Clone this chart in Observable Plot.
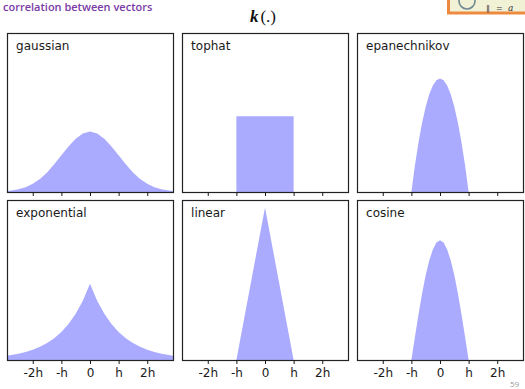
<!DOCTYPE html>
<html>
<head>
<meta charset="utf-8">
<script src="https://cdn.jsdelivr.net/npm/d3@7"></script>
<script src="https://cdn.jsdelivr.net/npm/@observablehq/plot@0.6"></script>
<style>
  html, body { margin: 0; padding: 0; background: #fff; }
  #page { position: relative; width: 525px; height: 389px; overflow: hidden; background: #fff; }
  .panel { position: absolute; }
  #decor { position: absolute; left: 0; top: 0; }
</style>
</head>
<body>
<div id="page">
  <svg id="decor" width="525" height="389">
    <text x="3" y="10.5" font-family="Open Sans" font-weight="600" font-size="11" fill="#7a3aa6">correlation between vectors</text>
    <rect x="448.5" y="-10" width="85" height="23" fill="#f1f1d6" stroke="#ee8a40" stroke-width="3"></rect>
    <circle cx="467" cy="1" r="8" fill="none" stroke="#6f8792" stroke-width="1.6"></circle>
    <text x="486" y="11" font-family="DejaVu Serif" font-size="8" fill="#333">‖</text>
    <text x="496" y="11" font-family="DejaVu Serif" font-size="8" fill="#333">=</text>
    <text x="508" y="11" font-family="DejaVu Serif" font-style="italic" font-size="9" fill="#333">a</text>
    <text x="263" y="22" text-anchor="middle" font-family="Liberation Serif" font-size="17" fill="#111"><tspan font-style="italic" font-weight="bold">k</tspan><tspan dx="2">(.)</tspan></text>
    <text x="510" y="387" font-family="Open Sans" font-size="8" fill="#9a9a9a">59</text>
  </svg>
</div>
<script>
// ---- data ----
const kernelNames = ["gaussian", "tophat", "epanechnikov", "exponential", "linear", "cosine"];

const gaussianX = [-3, -2.75, -2.5, -2.25, -2, -1.75, -1.5, -1.25, -1, -0.75, -0.5, -0.25, 0,
                   0.25, 0.5, 0.75, 1, 1.25, 1.5, 1.75, 2, 2.25, 2.5, 2.75, 3];
const gaussianY = [0.0044, 0.0091, 0.0175, 0.0317, 0.0540, 0.0863, 0.1295, 0.1826, 0.2420, 0.3011, 0.3521, 0.3867, 0.3989,
                   0.3867, 0.3521, 0.3011, 0.2420, 0.1826, 0.1295, 0.0863, 0.0540, 0.0317, 0.0175, 0.0091, 0.0044];

const tophatX = [-3, -1, -1, 1, 1, 3];
const tophatY = [0, 0, 0.5, 0.5, 0, 0];

const epanechnikovX = [-3, -1, -0.875, -0.75, -0.625, -0.5, -0.375, -0.25, -0.125, 0,
                       0.125, 0.25, 0.375, 0.5, 0.625, 0.75, 0.875, 1, 3];
const epanechnikovY = [0, 0, 0.176, 0.328, 0.457, 0.5625, 0.645, 0.703, 0.738, 0.75,
                       0.738, 0.703, 0.645, 0.5625, 0.457, 0.328, 0.176, 0, 0];

const exponentialX = [-3, -2.75, -2.5, -2.25, -2, -1.75, -1.5, -1.25, -1, -0.75, -0.5, -0.25, 0,
                      0.25, 0.5, 0.75, 1, 1.25, 1.5, 1.75, 2, 2.25, 2.5, 2.75, 3];
const exponentialY = [0.0249, 0.0320, 0.0410, 0.0527, 0.0677, 0.0869, 0.1116, 0.1433, 0.1839, 0.2362, 0.3033, 0.3894, 0.5,
                      0.3894, 0.3033, 0.2362, 0.1839, 0.1433, 0.1116, 0.0869, 0.0677, 0.0527, 0.0410, 0.0320, 0.0249];

const linearX = [-3, -1, 0, 1, 3];
const linearY = [0, 0, 1, 0, 0];

const cosineX = [-3, -1, -0.875, -0.75, -0.625, -0.5, -0.375, -0.25, -0.125, 0,
                 0.125, 0.25, 0.375, 0.5, 0.625, 0.75, 0.875, 1, 3];
const cosineY = [0, 0, 0.1532, 0.3006, 0.4363, 0.5554, 0.6530, 0.7256, 0.7703, 0.7854,
                 0.7703, 0.7256, 0.6530, 0.5554, 0.4363, 0.3006, 0.1532, 0, 0];

const tickValues = [-2, -1, 0, 1, 2];
const tickLabels = ["-2h", "-h", "0", "h", "2h"];

// ---- build ----
const series = {
  gaussian: [gaussianX, gaussianY],
  tophat: [tophatX, tophatY],
  epanechnikov: [epanechnikovX, epanechnikovY],
  exponential: [exponentialX, exponentialY],
  linear: [linearX, linearY],
  cosine: [cosineX, cosineY]
};

const colLeft = [7, 182, 357];
const rowTop = [33, 200];
const frameW = 166;
const frameH = [159, 160];
const page = document.getElementById("page");

kernelNames.forEach((name, k) => {
  const row = Math.floor(k / 3), col = k % 3;
  const [xs, ys] = series[name];
  const rows = xs.map((x, i) => ({x, y: ys[i]}));
  const bottom = row === 0 ? 5 : 26;
  const chart = Plot.plot({
    width: frameW + 2,
    height: frameH[row] + 1 + bottom,
    marginLeft: 1, marginRight: 1, marginTop: 1, marginBottom: bottom,
    style: {fontFamily: "DejaVu Sans", fontSize: "12px", color: "#1a1a1a", background: "transparent", overflow: "visible"},
    x: {domain: [-2.9, 2.9]},
    y: {domain: [0, 1.05], axis: null},
    marks: [
      Plot.areaY(rows, {x: "x", y: "y", fill: "#AAAAFF", curve: "linear", clip: true}),
      Plot.frame({stroke: "#222", strokeWidth: 1.2}),
      Plot.axisX({
        ticks: tickValues,
        tickSize: 4,
        tickPadding: 4,
        label: null,
        fontSize: 12,
        tickFormat: row === 0 ? () => "" : d => tickLabels[tickValues.indexOf(d)]
      }),
      Plot.text([name], {x: () => -2.6, y: () => 0.95, text: d => d, textAnchor: "start", lineAnchor: "bottom", dy: 1, fontSize: 12, fill: "#1a1a1a"})
    ]
  });
  const div = document.createElement("div");
  div.className = "panel";
  div.style.left = (colLeft[col] - 1) + "px";
  div.style.top = (rowTop[row] - 1) + "px";
  div.appendChild(chart);
  page.appendChild(div);
});
</script>
</body>
</html>
